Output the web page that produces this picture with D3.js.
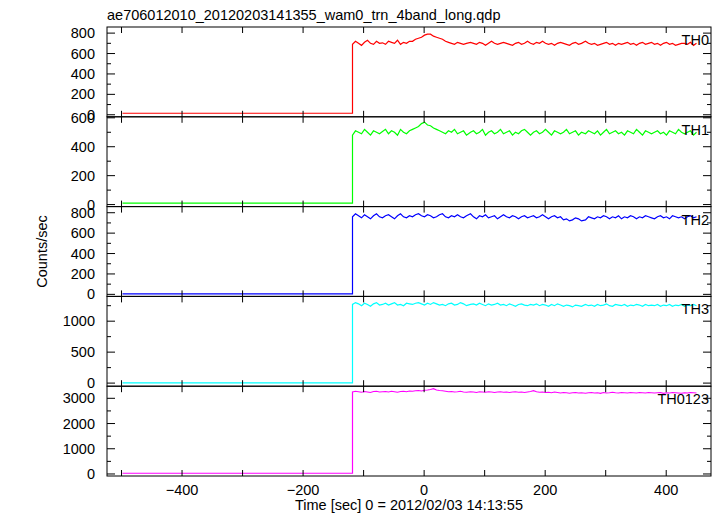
<!DOCTYPE html>
<html><head><meta charset="utf-8">
<script src="https://cdn.jsdelivr.net/npm/d3@7/dist/d3.min.js"></script>
<style>body{margin:0;background:#fff}text{font-family:"Liberation Sans",Arial,sans-serif}</style>
</head><body><svg id="c" width="717" height="516"></svg>
<script>
const title = "ae706012010_20120203141355_wam0_trn_4band_long.qdp";
const xLabel = "Time [sec] 0 = 2012/02/03 14:13:55";
const yLabel = "Counts/sec";
const names = ["TH0","TH1","TH2","TH3","TH0123"];
const colors = ["#ff0000","#00ff00","#0000ff","#00ffff","#ff00ff"];
const domains = [[-20,860],[-14,607],[-20,860],[-50,1400],[-80,3480]];
const yMajor = [[0,200,400,600,800],[0,200,400,600],[0,200,400,600,800],[0,500,1000],[0,1000,2000,3000]];
const yMinor = [100,100,100,250,500];
const xTicks = [-400,-200,0,200,400];
const bgStart = -500, onset = -120, step = 5;
const background = [15,10,5,5,30];
const th0 = [690,720,700,680,710,730,700,690,720,700,705,690,720,710,700,730,690,710,700,720,
720,740,750,760,780,790,790,770,760,750,740,720,710,700,690,710,700,690,700,710,
700,690,710,700,680,700,720,700,690,700,710,700,690,680,700,710,690,700,720,700,
690,710,700,720,700,690,700,680,700,710,700,690,680,700,710,690,700,720,700,690,
700,680,690,700,710,690,700,680,700,690,700,710,690,700,680,700,710,690,700,710,
690,700,680,700,710,690,700,680,690,700,700,690,710,680,700];
const th1 = [480,510,500,490,520,500,480,510,500,490,505,520,490,510,500,480,520,500,490,510,
520,530,540,560,570,550,545,530,520,510,500,490,510,500,520,490,500,510,480,500,
510,490,500,520,480,500,510,490,500,520,490,500,510,480,500,490,510,520,500,480,
500,510,490,500,520,500,480,510,500,490,500,520,490,500,510,480,500,490,510,500,
490,510,480,500,520,490,500,510,490,500,480,510,500,490,520,500,480,510,500,490,
500,510,490,500,480,510,500,490,520,500,490,500,510,480,500];
const th2 = [760,790,770,750,780,760,740,770,790,760,750,770,780,760,740,770,790,760,750,770,
760,780,790,770,760,780,770,750,760,780,790,760,750,770,760,780,760,750,770,790,
760,740,770,760,780,750,760,770,740,760,780,760,750,770,760,740,760,770,750,760,
770,750,760,780,760,740,760,770,750,760,730,740,720,730,750,740,720,730,760,750,
740,760,750,770,760,740,760,750,770,740,760,750,770,760,740,760,750,770,760,750,
740,760,770,750,760,740,770,760,750,760,740,760,770,750,760];
const th3 = [1270,1300,1280,1250,1290,1270,1240,1280,1300,1260,1270,1290,1260,1280,1300,1260,1270,1250,1290,1280,
1270,1290,1300,1280,1260,1290,1270,1300,1280,1260,1270,1250,1280,1290,1260,1270,1300,1280,1250,1270,
1280,1260,1290,1270,1250,1280,1260,1270,1290,1260,1270,1250,1280,1260,1240,1270,1280,1260,1250,1270,
1260,1280,1250,1270,1260,1240,1270,1250,1280,1260,1240,1260,1250,1230,1260,1250,1240,1270,1250,1260,
1240,1270,1250,1260,1280,1250,1240,1270,1260,1250,1270,1240,1260,1250,1270,1260,1240,1270,1250,1260,
1250,1270,1240,1260,1250,1270,1240,1260,1250,1270,1240,1260,1250,1270,1250];
const th0123 = [3250,3280,3260,3240,3270,3250,3230,3270,3280,3250,3260,3270,3250,3280,3260,3240,3270,3280,3260,3290,
3280,3300,3310,3290,3320,3330,3350,3380,3330,3310,3300,3280,3260,3270,3250,3260,3280,3250,3240,3260,
3250,3230,3260,3250,3240,3260,3250,3230,3250,3260,3240,3250,3230,3250,3260,3240,3250,3230,3250,3270,
3300,3260,3240,3250,3230,3240,3220,3250,3230,3210,3230,3220,3200,3220,3230,3210,3220,3200,3220,3230,
3210,3220,3200,3230,3210,3220,3240,3220,3210,3230,3220,3210,3230,3220,3210,3230,3220,3210,3230,3220,
3210,3220,3230,3200,3220,3210,3230,3220,3210,3200,3220,3210,3230,3220,3210];
const series = [th0,th1,th2,th3,th0123];

const svg = d3.select("#c");
const L=107,R=711,T=27,B=476,H=(B-T)/5;
const x = d3.scaleLinear().domain([-524,474]).range([L,R]);
svg.append("text").attr("x",L).attr("y",20).attr("font-size",14.5).text(title);
svg.append("text").attr("transform",`translate(47,${(T+B)/2}) rotate(-90)`).attr("text-anchor","middle").attr("font-size",14.5).text(yLabel);
svg.append("text").attr("x",(L+R)/2).attr("y",510).attr("text-anchor","middle").attr("font-size",14.5).text(xLabel);

series.forEach((vals,i)=>{
  const top=T+i*H, bot=top+H;
  const y=d3.scaleLinear().domain(domains[i]).range([bot,top]);
  const g=svg.append("g");
  const pts=[[bgStart,background[i]],[onset,background[i]]];
  vals.forEach((v,k)=>pts.push([onset+k*step,v]));
  g.append("path").attr("d",d3.line().x(d=>Math.round(x(d[0]))+0.5).y(d=>y(d[1]))(pts))
   .attr("fill","none").attr("stroke",colors[i]).attr("stroke-width",1.2);
  const xt=d3.range(-500,475,100);
  const yt=d3.range(0,domains[i][1],yMinor[i]);
  xt.forEach(t=>{
    g.append("line").attr("x1",x(t)).attr("x2",x(t)).attr("y1",top).attr("y2",top+6).attr("stroke","#000");
    g.append("line").attr("x1",x(t)).attr("x2",x(t)).attr("y1",bot).attr("y2",bot-6).attr("stroke","#000");
  });
  yt.forEach(t=>{
    const len=yMajor[i].includes(t)?8:4;
    g.append("line").attr("x1",L).attr("x2",L+len).attr("y1",y(t)).attr("y2",y(t)).attr("stroke","#000");
    g.append("line").attr("x1",R).attr("x2",R-len).attr("y1",y(t)).attr("y2",y(t)).attr("stroke","#000");
  });
  g.selectAll(".yl").data(yMajor[i]).enter().append("text").attr("x",L-12).attr("y",d=>y(d)+5)
   .attr("text-anchor","end").attr("font-size",14.5).text(d=>d);
  g.append("rect").attr("x",L).attr("y",top).attr("width",R-L).attr("height",H).attr("fill","none").attr("stroke","#000");
  g.append("text").attr("x",R-2).attr("y",top+18).attr("text-anchor","end").attr("font-size",14.5).text(names[i]);
  if(i===4){
    g.selectAll(".xl").data(xTicks).enter().append("text").attr("x",d=>x(d)).attr("y",bot+19)
     .attr("text-anchor","middle").attr("font-size",14.5).text(d=>d<0?"\u2212"+(-d):d);
  }
});
</script></body></html>
